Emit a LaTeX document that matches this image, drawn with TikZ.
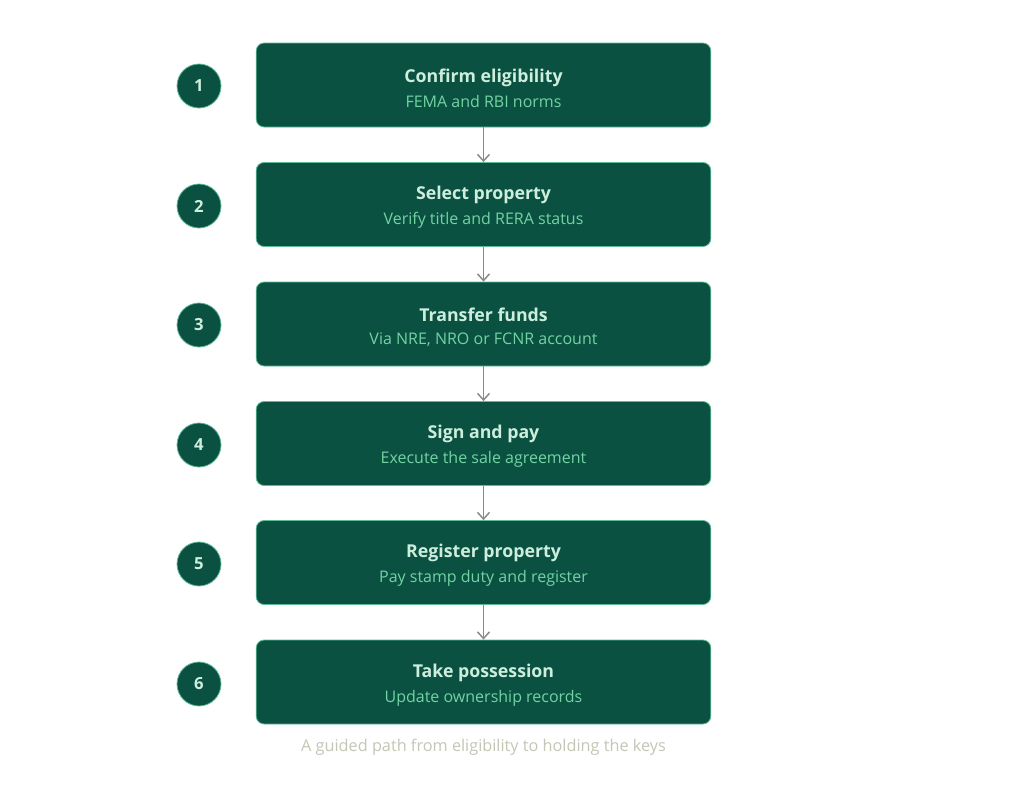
\documentclass[tikz,border=0pt]{standalone}
\usepackage{fontspec}
\setmainfont{Open Sans}
\usetikzlibrary{arrows.meta}
\definecolor{boxfill}{HTML}{0B5142}
\definecolor{boxline}{HTML}{5DBB95}
\definecolor{titlecol}{HTML}{CDEEDD}
\definecolor{subcol}{HTML}{72D3A3}
\definecolor{arrowcol}{HTML}{8A8A8A}
\definecolor{capcol}{HTML}{C4C6B6}
\tikzset{
  stepbox/.style={draw=boxline, line width=0.6pt, fill=boxfill, rounded corners=6pt,
    minimum width=341pt, minimum height=63pt, inner sep=0pt},
  steptext/.style={inner sep=0pt, align=center, yshift=-2.25pt},
  numcirc/.style={circle, draw=boxline, line width=0.6pt, fill=boxfill, minimum size=33pt,
    inner sep=0pt, text=titlecol, font=\bfseries\fontsize{12.5}{14}\selectfont},
  flow/.style={draw=arrowcol, line width=1.1pt, -{Straight Barb[length=5pt,width=9pt]}},
}
\newcommand{\stxt}[2]{{\color{titlecol}\bfseries\fontsize{13.3}{15}\selectfont #1}\\[5.5pt]{\color{subcol}\fontsize{12}{13}\selectfont #2}}
\begin{document}
\begin{tikzpicture}[x=0.75pt,y=-0.75pt]
\useasboundingbox[fill=white] (0,0) rectangle (1024,796);
\node[stepbox] (s1) at (483.5,85) {};
\node[stepbox] (s2) at (483.5,204.5) {};
\node[stepbox] (s3) at (483.5,324) {};
\node[stepbox] (s4) at (483.5,443.5) {};
\node[stepbox] (s5) at (483.5,562.5) {};
\node[stepbox] (s6) at (483.5,682) {};
\node[steptext] (t1) at (s1.center) {\stxt{Confirm eligibility}{FEMA and RBI norms}};
\node[steptext] (t2) at (s2.center) {\stxt{Select property}{Verify title and RERA status}};
\node[steptext] (t3) at (s3.center) {\stxt{Transfer funds}{Via NRE, NRO or FCNR account}};
\node[steptext] (t4) at (s4.center) {\stxt{Sign and pay}{Execute the sale agreement}};
\node[steptext] (t5) at (s5.center) {\stxt{Register property}{Pay stamp duty and register}};
\node[steptext] (t6) at (s6.center) {\stxt{Take possession}{Update ownership records}};
\node[numcirc] (c1) at (199,86) {1};
\node[numcirc] (c2) at (199,206) {2};
\node[numcirc] (c3) at (199,325) {3};
\node[numcirc] (c4) at (199,445) {4};
\node[numcirc] (c5) at (199,564) {5};
\node[numcirc] (c6) at (199,684) {6};
\draw[flow] (s1) -- (s2);
\draw[flow] (s2) -- (s3);
\draw[flow] (s3) -- (s4);
\draw[flow] (s4) -- (s5);
\draw[flow] (s5) -- (s6);
\node[text=capcol, font=\fontsize{12.2}{14}\selectfont] (cap) at (483.5,747) {A guided path from eligibility to holding the keys};
\end{tikzpicture}
\end{document}
